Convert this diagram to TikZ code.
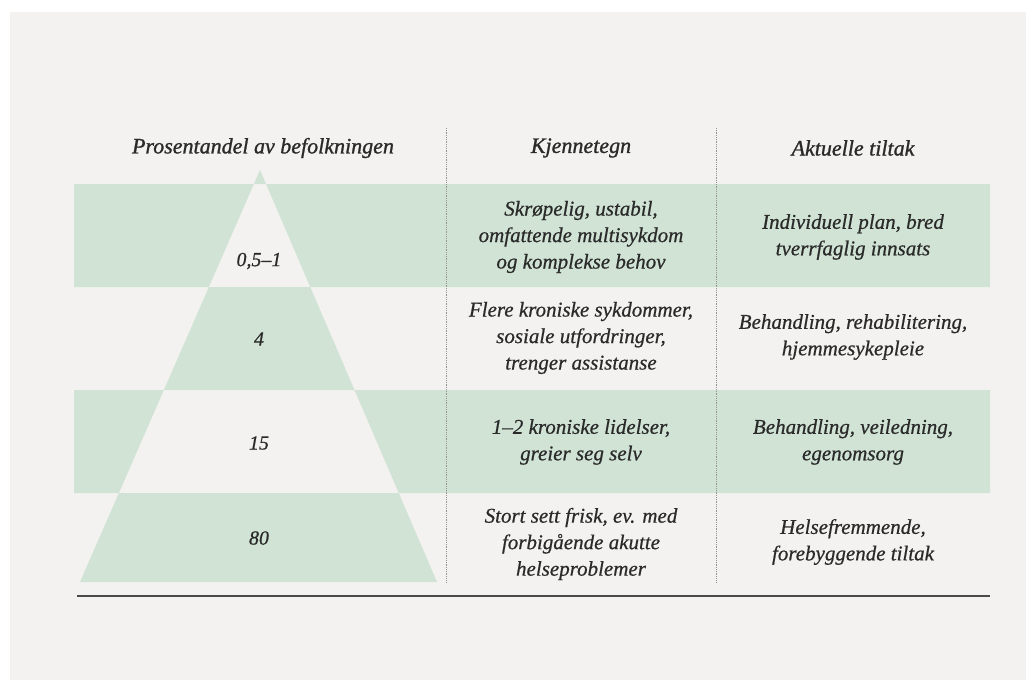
\documentclass[tikz,border=0pt]{standalone}
\usepackage{fontspec}
\setmainfont{Liberation Serif}
\newfontface\tekstkursiv{Liberation Serif Italic}[FakeBold=0.6]
\newfontface\hodekursiv{Liberation Serif Italic}[FakeBold=1.1]
\definecolor{bakgrunn}{HTML}{F3F2F0}
\definecolor{gronn}{HTML}{D0E3D4}
\definecolor{tekst}{HTML}{2A2A2A}
\definecolor{strek}{HTML}{4A4A4A}
\begin{document}
\begin{tikzpicture}[x=1pt, y=-1pt,
    celle/.style={font=\tekstkursiv\fontsize{21}{26.5}\selectfont, text=tekst, align=center, inner sep=0pt},
    hode/.style={celle, font=\hodekursiv\fontsize{22}{26.5}\selectfont},
    tall/.style={font=\tekstkursiv\fontsize{20}{24}\selectfont, text=tekst, inner sep=0pt},
    skille/.style={densely dotted, gray!85, line width=0.8pt}]
    % Sfondo: bordo bianco e pannello grigio chiaro
    \useasboundingbox (0,0) rectangle (1026,680);
    \fill[white] (0,0) rectangle (1026,680);
    \fill[bakgrunn] (10,12) rectangle (1026,680);

    % 1. Fasce verdi e piramide (regola pari-dispari: i colori si invertono dove si sovrappongono)
    \coordinate (topp) at (260,170);
    \coordinate (baseV) at (80,582);
    \coordinate (baseH) at (437,582);
    \fill[gronn, even odd rule]
        (74,184) rectangle (990,287)
        (74,390) rectangle (990,493)
        (topp) -- (baseH) -- (baseV) -- cycle;

    % Linee verticali punteggiate tra le colonne
    \coordinate (s1a) at (446,128); \coordinate (s1b) at (446,582);
    \coordinate (s2a) at (716,128); \coordinate (s2b) at (716,582);
    \draw[skille] (s1a) -- (s1b);
    \draw[skille] (s2a) -- (s2b);

    % Linea di chiusura in basso
    \draw[strek, line width=2.4pt] (77,596) -- (990,596);

    % Intestazioni delle colonne
    \node[hode] (hodeProsent) at (263,148) {Prosentandel av befolkningen};
    \node[hode] (hodeKjenne) at (581,148) {Kjennetegn};
    \node[hode] (hodeTiltak) at (853,148) {Aktuelle tiltak};

    % 2. Valori percentuali dentro la piramide
    \node[tall] (tall1) at (259,261) {0,5–1};
    \node[tall] (tall2) at (259,339) {4};
    \node[tall] (tall3) at (259,443) {15};
    \node[tall] (tall4) at (259,538) {80};

    % Colonna "Kjennetegn"
    \node[celle] (kjenne1) at (581,237) {Skrøpelig, ustabil,\\omfattende multisykdom\\og komplekse behov};
    \node[celle] (kjenne2) at (581,338) {Flere kroniske sykdommer,\\sosiale utfordringer,\\trenger assistanse};
    \node[celle] (kjenne3) at (581,442) {1–2 kroniske lidelser,\\greier seg selv};
    \node[celle] (kjenne4) at (581,544) {Stort sett frisk, ev. med\\forbigående akutte\\helseproblemer};

    % Colonna "Aktuelle tiltak"
    \node[celle] (tiltak1) at (853,237) {Individuell plan, bred\\tverrfaglig innsats};
    \node[celle] (tiltak2) at (853,337) {Behandling, rehabilitering,\\hjemmesykepleie};
    \node[celle] (tiltak3) at (853,442) {Behandling, veiledning,\\egenomsorg};
    \node[celle] (tiltak4) at (853,542) {Helsefremmende,\\forebyggende tiltak};
\end{tikzpicture}
\end{document}
